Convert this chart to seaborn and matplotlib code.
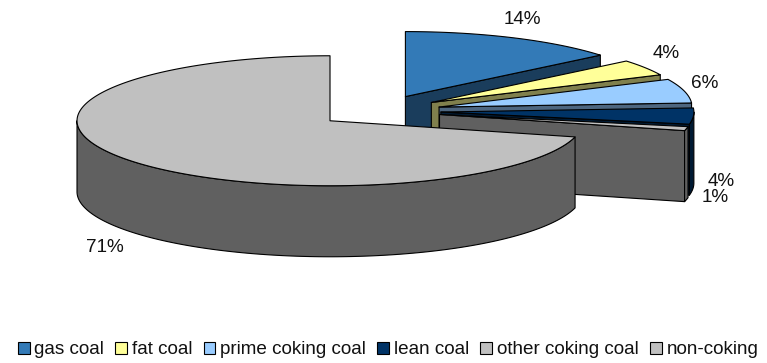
import numpy as np
import matplotlib
matplotlib.use("Agg")
import matplotlib.pyplot as plt
from matplotlib.patches import Polygon, Patch
import seaborn as sns

categories = ["gas coal", "fat coal", "prime coking coal", "lean coal",
              "other coking coal", "non-coking"]
shares = [14, 4, 6, 4, 1, 71]
top_colours = ["#337AB7", "#FFFF99", "#99CCFF", "#003366", "#C0C0C0", "#C0C0C0"]

# Placement of the shares' labels around the pie
label_xy = [(522, 19), (666, 53), (705, 83), (721, 181), (715, 197), (105, 248)]

sns.set_theme(style="white")
plt.rcParams["font.family"] = ["Liberation Sans", "DejaVu Sans"]
palette = sns.color_palette(top_colours)

fig = plt.figure(figsize=(7.67, 3.63), dpi=100)
ax = fig.add_axes([0, 0, 1, 1])
ax.set_xlim(0, 767)
ax.set_ylim(363, 0)
ax.axis("off")

# Tilted pie: ellipse radii, wall height, centre and explosion distance
RX, RY, DEPTH = 253, 65, 71
CX, CY, EXPLODE = 379, 111, 62


def ring(angles, cx, cy):
    return np.column_stack([cx + RX * np.sin(angles), cy - RY * np.cos(angles)])


edges = np.radians(np.cumsum([0] + shares) * 3.6)
for i, colour in enumerate(palette):
    a0, a1 = edges[i], edges[i + 1]
    mid = (a0 + a1) / 2
    cx = CX + EXPLODE * np.sin(mid)
    cy = CY - EXPLODE * np.cos(mid) * RY / RX
    wall = tuple(np.array(colour) * 0.5)
    style = dict(edgecolor="black", linewidth=0.8, joinstyle="round")

    # Radial face on the clockwise side, shown only when it turns to the viewer
    if a1 < np.pi:
        end = ring(np.array([a1]), cx, cy)[0]
        quad = [(cx, cy), end, end + [0, DEPTH], (cx, cy + DEPTH)]
        ax.add_patch(Polygon(quad, facecolor=wall, **style))

    # Rim between 3 and 9 o'clock faces the viewer
    lo, hi = max(a0, np.pi / 2), min(a1, 1.5 * np.pi)
    if hi > lo:
        arc = ring(np.linspace(lo, hi, 160), cx, cy)
        rim = np.vstack([arc, arc[::-1] + [0, DEPTH]])
        ax.add_patch(Polygon(rim, facecolor=wall, **style))

    arc = ring(np.linspace(a0, a1, 200), cx, cy)
    ax.add_patch(Polygon(np.vstack([[cx, cy], arc]), facecolor=colour, **style))

for share, (x, y) in zip(shares, label_xy):
    ax.text(x, y, f"{share}%", ha="center", va="center", fontsize=13.6, color="#111111")

handles = [Patch(facecolor=c, edgecolor="black", linewidth=0.8, label=n)
           for c, n in zip(palette, categories)]
ax.legend(handles=handles, ncol=6, loc="center", bbox_to_anchor=(388 / 767, 1 - 350 / 363),
          frameon=False, fontsize=13.6, handlelength=0.62, handleheight=0.62,
          handletextpad=0.25, columnspacing=0.6, borderpad=0, labelcolor="#111111")

fig.savefig("out.png", dpi=100)
